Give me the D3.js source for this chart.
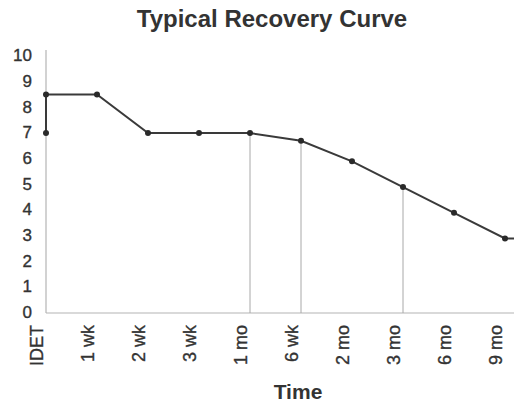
<!DOCTYPE html>
<html>
<head>
<meta charset="utf-8">
<script src="https://cdn.jsdelivr.net/npm/d3@7"></script>
<style>
  html, body { margin: 0; padding: 0; background: #fff; }
  text { font-family: "Liberation Sans", Arial, sans-serif; fill: #333; }
  .tick-label { stroke: #333; stroke-width: 0.35px; }
</style>
</head>
<body>
<div id="root"></div>
<script>
// Data
const categories = ['IDET', '1 wk', '2 wk', '3 wk', '1 mo', '6 wk', '2 mo', '3 mo', '6 mo', '9 mo'];
const recovery = [8.5, 8.5, 7, 7, 7, 6.7, 5.9, 4.9, 3.9, 2.9];
const initialScore = 7; // score before IDET
const dropLines = ['1 mo', '6 wk', '3 mo'];
const yTicks = [0, 1, 2, 3, 4, 5, 6, 7, 8, 9, 10];

let width = 514;
let height = 402;

const svg = d3.select('#root').append('svg').attr('width', width).attr('height', height);

let xScale = d3.scalePoint().domain(categories).range([46, 505]);
let yScale = d3.scaleLinear().domain([0, 10]).range([313, 56]);
let plotRight = width;

// Axes lines
svg.append('line')
  .attr('x1', xScale('IDET')).attr('x2', xScale('IDET'))
  .attr('y1', 50).attr('y2', yScale(0))
  .attr('stroke', '#b4b4b4').attr('stroke-width', 1.2);

svg.append('line')
  .attr('x1', xScale('IDET')).attr('x2', plotRight)
  .attr('y1', yScale(0)).attr('y2', yScale(0))
  .attr('stroke', '#b4b4b4').attr('stroke-width', 1.2);

// Y tick labels
svg.append('g')
  .selectAll('text')
  .data(yTicks)
  .enter()
  .append('text')
  .attr('class', 'tick-label')
  .attr('x', 32)
  .attr('y', (d) => yScale(d))
  .attr('dy', '0.3em')
  .attr('text-anchor', 'end')
  .style('font-size', '17px')
  .text((d) => d);

// X tick labels (rotated)
svg.append('g')
  .selectAll('text')
  .data(categories)
  .enter()
  .append('text')
  .attr('class', 'tick-label')
  .attr('transform', (d) => `translate(${xScale(d) - 3}, 325) rotate(-90)`)
  .attr('text-anchor', 'end')
  .style('font-size', '18px')
  .text((d) => d);

// Drop lines
svg.append('g')
  .selectAll('line')
  .data(dropLines)
  .enter()
  .append('line')
  .attr('x1', (d) => xScale(d))
  .attr('x2', (d) => xScale(d))
  .attr('y1', (d) => yScale(recovery[categories.indexOf(d)]))
  .attr('y2', yScale(0))
  .attr('stroke', '#a8a8a8')
  .attr('stroke-width', 1);

// Curve
let points = [[xScale('IDET'), yScale(initialScore)]];
categories.forEach((c, i) => points.push([xScale(c), yScale(recovery[i])]));
let lastVal = recovery[recovery.length - 1];
let curve = points.concat([[plotRight, yScale(lastVal)]]);

svg.append('path')
  .datum(curve)
  .attr('d', d3.line())
  .attr('fill', 'none')
  .attr('stroke', '#3a3a3a')
  .attr('stroke-width', 2);

svg.append('g')
  .selectAll('circle')
  .data(points)
  .enter()
  .append('circle')
  .attr('cx', (d) => d[0])
  .attr('cy', (d) => d[1])
  .attr('r', 3)
  .style('fill', '#2a2a2a');

// Titles
svg.append('text')
  .attr('x', 272)
  .attr('y', 27)
  .attr('text-anchor', 'middle')
  .style('font-size', '24px')
  .style('font-weight', 'bold')
  .text('Typical Recovery Curve');

svg.append('text')
  .attr('x', 298)
  .attr('y', 399)
  .attr('text-anchor', 'middle')
  .style('font-size', '21px')
  .style('font-weight', 'bold')
  .text('Time');
</script>
</body>
</html>
